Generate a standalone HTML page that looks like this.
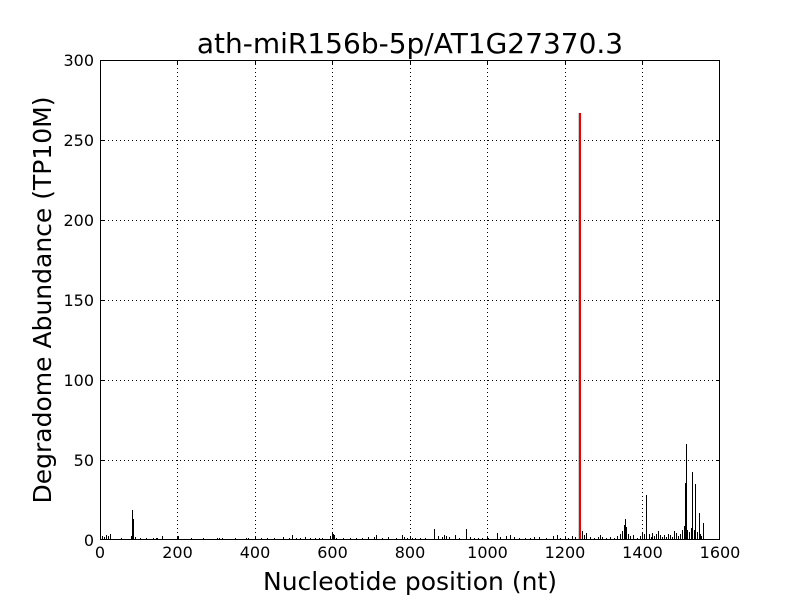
<!DOCTYPE html>
<html><head><meta charset="utf-8"><style>
html,body{margin:0;padding:0;background:#fff;}
svg text{font-family:"DejaVu Sans","Liberation Sans",sans-serif;}
</style></head><body>
<svg width="800" height="600" xmlns="http://www.w3.org/2000/svg">
<rect width="800" height="600" fill="#fff"/>
<g stroke="#000" stroke-width="1" stroke-dasharray="1,3" fill="none">
<path d="M177.5 60V540M255.5 60V540M332.5 60V540M410.5 60V540M487.5 60V540M565.5 60V540M642.5 60V540"/>
<path d="M100 140.5H720M100 220.5H720M100 300.5H720M100 380.5H720M100 460.5H720"/>
</g>
<path d="M578.5 540V113" stroke="#ccc" stroke-width="1"/>
<g stroke="#000" stroke-width="1" fill="none" shape-rendering="crispEdges">
<path d="M102.5 540V536M104.5 540V537M106.5 540V535M108.5 540V536M110.5 540V534M121.5 540V538M131.5 540V536M132.5 540V510M133.5 540V519M135.5 540V537M140.5 540V538M146.5 540V538M153.5 540V538M156.5 540V538M157.5 540V538M162.5 540V536M178.5 540V536M191.5 540V538M203.5 540V538M217.5 540V538M219.5 540V538M222.5 540V538M235.5 540V538M246.5 540V538M248.5 540V538M255.5 540V536M261.5 540V538M267.5 540V538M274.5 540V538M283.5 540V537M289.5 540V538M292.5 540V535M296.5 540V538M300.5 540V538M305.5 540V537M310.5 540V538M315.5 540V538M319.5 540V538M322.5 540V538M330.5 540V536M332.5 540V533M333.5 540V534M334.5 540V535M336.5 540V538M343.5 540V538M350.5 540V538M356.5 540V538M362.5 540V538M368.5 540V537M374.5 540V537M376.5 540V535M382.5 540V538M388.5 540V537M396.5 540V538M402.5 540V535M404.5 540V537M407.5 540V538M412.5 540V538M415.5 540V538M420.5 540V538M425.5 540V538M434.5 540V529M438.5 540V536M442.5 540V537M444.5 540V535M446.5 540V536M449.5 540V537M455.5 540V535M459.5 540V538M466.5 540V529M470.5 540V537M474.5 540V538M478.5 540V538M482.5 540V538M488.5 540V538M497.5 540V533M500.5 540V537M506.5 540V536M510.5 540V535M514.5 540V537M519.5 540V538M525.5 540V538M530.5 540V538M534.5 540V537M539.5 540V537M546.5 540V538M553.5 540V536M557.5 540V535M560.5 540V538M565.5 540V536M568.5 540V538M572.5 540V536M575.5 540V537"/>
<path d="M582.5 540V531M584.5 540V535M586.5 540V533M590.5 540V537M594.5 540V538M598.5 540V537M600.5 540V535M602.5 540V537M606.5 540V538M610.5 540V537M614.5 540V538M617.5 540V536M620.5 540V534M622.5 540V531M624.5 540V525M625.5 540V519M626.5 540V527M628.5 540V534M630.5 540V536M633.5 540V535M637.5 540V538M640.5 540V536M642.5 540V532M644.5 540V534M646.5 540V495M649.5 540V534M651.5 540V537M652.5 540V533M654.5 540V536M656.5 540V534M658.5 540V531M660.5 540V535M662.5 540V537M664.5 540V535M666.5 540V537M668.5 540V534M670.5 540V535M672.5 540V537M674.5 540V531M676.5 540V533M678.5 540V536M680.5 540V534M682.5 540V530M684.5 540V526M685.5 540V483M686.5 540V444M687.5 540V530M689.5 540V532M691.5 540V528M692.5 540V472M694.5 540V530M695.5 540V484M697.5 540V532M699.5 540V513M700.5 540V534M701.5 540V536M703.5 540V523"/>
</g>
<path d="M580 540V113" stroke="#e00" stroke-width="2" shape-rendering="crispEdges"/>
<rect x="100.5" y="60.5" width="619" height="479" fill="none" stroke="#000" stroke-width="1"/>
<g stroke="#000" stroke-width="1">
<path d="M177.5 540v-4M255.5 540v-4M332.5 540v-4M410.5 540v-4M487.5 540v-4M565.5 540v-4M642.5 540v-4M177.5 60v4M255.5 60v4M332.5 60v4M410.5 60v4M487.5 60v4M565.5 60v4M642.5 60v4"/>
<path d="M100 460.5h4M100 380.5h4M100 300.5h4M100 220.5h4M100 140.5h4M720 460.5h-4M720 380.5h-4M720 300.5h-4M720 220.5h-4M720 140.5h-4"/>
</g>
<g font-size="16" fill="#000" text-anchor="middle">
<text x="100" y="558">0</text><text x="177.5" y="558">200</text><text x="255" y="558">400</text><text x="332.5" y="558">600</text><text x="410" y="558">800</text><text x="487.5" y="558">1000</text><text x="565" y="558">1200</text><text x="642.5" y="558">1400</text><text x="720" y="558">1600</text>
</g>
<g font-size="16" fill="#000" text-anchor="end">
<text x="94" y="546">0</text><text x="94" y="466">50</text><text x="94" y="386">100</text><text x="94" y="306">150</text><text x="94" y="226">200</text><text x="94" y="146">250</text><text x="94" y="66">300</text>
</g>
<text x="410" y="53" font-size="28" text-anchor="middle">ath-miR156b-5p/AT1G27370.3</text>
<text x="410" y="590" font-size="25" text-anchor="middle">Nucleotide position (nt)</text>
<text transform="translate(51,300) rotate(-90)" font-size="25" text-anchor="middle">Degradome Abundance (TP10M)</text>
</svg>
</body></html>
